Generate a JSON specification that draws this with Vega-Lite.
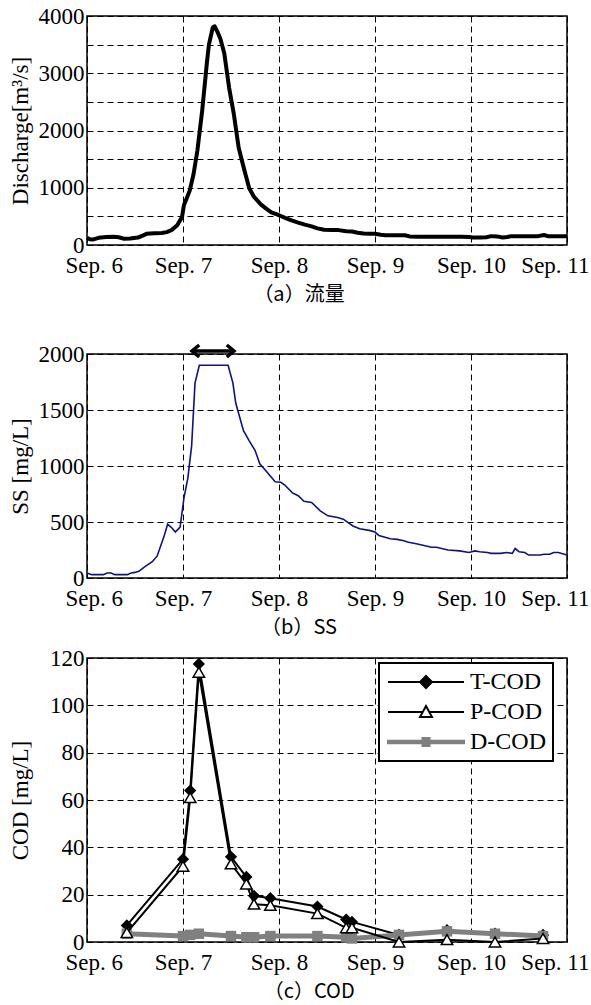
{
  "$schema": "https://vega.github.io/schema/vega-lite/v6.json",
  "background": "white",
  "padding": {"left": 8, "top": 4, "right": 0, "bottom": 0},
  "datasets": {
    "q": [
      {"day":0,"Q":128},{"day":0.03,"Q":100},{"day":0.06,"Q":95},{"day":0.12,"Q":125},{"day":0.2,"Q":140},{"day":0.28,"Q":145},{"day":0.33,"Q":135},{"day":0.38,"Q":110},{"day":0.45,"Q":115},{"day":0.53,"Q":130},{"day":0.58,"Q":165},{"day":0.62,"Q":195},{"day":0.7,"Q":205},{"day":0.78,"Q":210},{"day":0.83,"Q":225},{"day":0.88,"Q":260},{"day":0.94,"Q":345},{"day":0.99,"Q":490},{"day":1.01,"Q":700},{"day":1.04,"Q":820},{"day":1.07,"Q":950},{"day":1.11,"Q":1240},{"day":1.15,"Q":1650},{"day":1.2,"Q":2350},{"day":1.25,"Q":3200},{"day":1.27,"Q":3500},{"day":1.31,"Q":3800},{"day":1.33,"Q":3820},{"day":1.36,"Q":3720},{"day":1.39,"Q":3600},{"day":1.43,"Q":3350},{"day":1.48,"Q":2750},{"day":1.53,"Q":2280},{"day":1.58,"Q":1700},{"day":1.64,"Q":1300},{"day":1.69,"Q":990},{"day":1.74,"Q":840},{"day":1.81,"Q":710},{"day":1.87,"Q":630},{"day":1.92,"Q":570},{"day":2.0,"Q":520},{"day":2.07,"Q":470},{"day":2.13,"Q":430},{"day":2.2,"Q":390},{"day":2.27,"Q":355},{"day":2.34,"Q":325},{"day":2.4,"Q":290},{"day":2.47,"Q":265},{"day":2.55,"Q":260},{"day":2.62,"Q":260},{"day":2.7,"Q":240},{"day":2.76,"Q":235},{"day":2.82,"Q":215},{"day":2.88,"Q":200},{"day":2.95,"Q":195},{"day":3.0,"Q":195},{"day":3.06,"Q":180},{"day":3.11,"Q":170},{"day":3.2,"Q":170},{"day":3.31,"Q":170},{"day":3.36,"Q":150},{"day":3.45,"Q":145},{"day":3.6,"Q":145},{"day":3.75,"Q":145},{"day":3.9,"Q":145},{"day":3.98,"Q":140},{"day":4.02,"Q":130},{"day":4.1,"Q":130},{"day":4.16,"Q":135},{"day":4.21,"Q":155},{"day":4.27,"Q":150},{"day":4.33,"Q":130},{"day":4.38,"Q":140},{"day":4.42,"Q":155},{"day":4.5,"Q":155},{"day":4.6,"Q":155},{"day":4.7,"Q":155},{"day":4.76,"Q":175},{"day":4.8,"Q":155},{"day":4.9,"Q":155},{"day":5.0,"Q":155}
    ],
    "ss": [
      {"day":0,"SS":44},{"day":0.05,"SS":30},{"day":0.17,"SS":30},{"day":0.21,"SS":44},{"day":0.25,"SS":44},{"day":0.29,"SS":30},{"day":0.42,"SS":30},{"day":0.46,"SS":44},{"day":0.5,"SS":50},{"day":0.54,"SS":60},{"day":0.6,"SS":100},{"day":0.68,"SS":145},{"day":0.73,"SS":195},{"day":0.8,"SS":365},{"day":0.84,"SS":480},{"day":0.88,"SS":450},{"day":0.92,"SS":410},{"day":0.97,"SS":455},{"day":1.01,"SS":715},{"day":1.05,"SS":890},{"day":1.09,"SS":1180},{"day":1.125,"SS":1740},{"day":1.17,"SS":1900},{"day":1.47,"SS":1900},{"day":1.52,"SS":1740},{"day":1.55,"SS":1560},{"day":1.63,"SS":1315},{"day":1.69,"SS":1225},{"day":1.75,"SS":1140},{"day":1.8,"SS":1020},{"day":1.87,"SS":950},{"day":1.96,"SS":860},{"day":2.02,"SS":855},{"day":2.06,"SS":830},{"day":2.14,"SS":760},{"day":2.2,"SS":735},{"day":2.26,"SS":685},{"day":2.34,"SS":675},{"day":2.43,"SS":600},{"day":2.51,"SS":555},{"day":2.61,"SS":540},{"day":2.67,"SS":525},{"day":2.77,"SS":465},{"day":2.84,"SS":440},{"day":2.94,"SS":425},{"day":3.0,"SS":410},{"day":3.04,"SS":380},{"day":3.16,"SS":350},{"day":3.23,"SS":345},{"day":3.29,"SS":335},{"day":3.35,"SS":320},{"day":3.43,"SS":305},{"day":3.51,"SS":290},{"day":3.59,"SS":275},{"day":3.64,"SS":275},{"day":3.76,"SS":250},{"day":3.88,"SS":242},{"day":3.98,"SS":228},{"day":4.04,"SS":242},{"day":4.09,"SS":235},{"day":4.17,"SS":228},{"day":4.21,"SS":220},{"day":4.31,"SS":220},{"day":4.37,"SS":228},{"day":4.43,"SS":220},{"day":4.46,"SS":263},{"day":4.5,"SS":235},{"day":4.56,"SS":228},{"day":4.6,"SS":205},{"day":4.72,"SS":205},{"day":4.76,"SS":212},{"day":4.82,"SS":212},{"day":4.86,"SS":228},{"day":4.91,"SS":228},{"day":5.0,"SS":205}
    ],
    "arrow": [{"start":1.094,"end":1.531,"level":2027}],
    "arrowHeads": [{"day":1.094,"level":2027,"side":"start"},{"day":1.531,"level":2027,"side":"end"}],
    "cod": [
      {"series":"T-COD","day":0.415,"value":7},{"series":"T-COD","day":1.0,"value":35},{"series":"T-COD","day":1.075,"value":64},{"series":"T-COD","day":1.165,"value":117.5},{"series":"T-COD","day":1.5,"value":36},{"series":"T-COD","day":1.66,"value":27.5},{"series":"T-COD","day":1.74,"value":19.5},{"series":"T-COD","day":1.91,"value":18.5},{"series":"T-COD","day":2.4,"value":15},{"series":"T-COD","day":2.7,"value":9.5},{"series":"T-COD","day":2.76,"value":8.5},{"series":"T-COD","day":3.25,"value":3},{"series":"T-COD","day":3.75,"value":5},{"series":"T-COD","day":4.25,"value":3.5},{"series":"T-COD","day":4.75,"value":3},
      {"series":"P-COD","day":0.415,"value":4},{"series":"P-COD","day":1.0,"value":32},{"series":"P-COD","day":1.075,"value":61},{"series":"P-COD","day":1.165,"value":114},{"series":"P-COD","day":1.5,"value":33},{"series":"P-COD","day":1.66,"value":24.5},{"series":"P-COD","day":1.74,"value":16},{"series":"P-COD","day":1.91,"value":15.5},{"series":"P-COD","day":2.4,"value":12},{"series":"P-COD","day":2.7,"value":6},{"series":"P-COD","day":2.76,"value":6},{"series":"P-COD","day":3.25,"value":0},{"series":"P-COD","day":3.75,"value":1},{"series":"P-COD","day":4.25,"value":0},{"series":"P-COD","day":4.75,"value":1.5},
      {"series":"D-COD","day":0.415,"value":3.5},{"series":"D-COD","day":1.0,"value":2.5},{"series":"D-COD","day":1.075,"value":3},{"series":"D-COD","day":1.165,"value":3.5},{"series":"D-COD","day":1.5,"value":2.5},{"series":"D-COD","day":1.66,"value":2},{"series":"D-COD","day":1.74,"value":2},{"series":"D-COD","day":1.91,"value":2.5},{"series":"D-COD","day":2.4,"value":2.5},{"series":"D-COD","day":2.7,"value":2},{"series":"D-COD","day":2.76,"value":1.5},{"series":"D-COD","day":3.25,"value":3},{"series":"D-COD","day":3.75,"value":4.5},{"series":"D-COD","day":4.25,"value":3.5},{"series":"D-COD","day":4.75,"value":2.5}
    ]
  },
  "spacing": 7,
  "resolve": {
    "scale": {"x": "independent", "y": "independent"},
    "legend": {"shape": "independent", "fill": "independent", "stroke": "independent"}
  },
  "vconcat": [
    {
      "width": 480, "height": 229,
      "title": {"text": ["（a）流量", ""], "lineHeight": 24},
      "data": {"name": "q"},
      "mark": {"type": "line", "color": "black", "strokeWidth": 4, "strokeJoin": "round"},
      "encoding": {
        "x": {"field": "day", "type": "quantitative", "scale": {"domain": [0, 5], "nice": false},
              "axis": {"title": null, "values": [0,1,2,3,4,5], "labelExpr": "'Sep. ' + (datum.value + 6)", "labelFlush": true, "labelFlushOffset": 22, "labelOverlap": false, "labelPadding": 9, "labelFont": "Liberation Serif", "labelFontSize": 23}},
        "y": {"field": "Q", "type": "quantitative", "scale": {"domain": [0, 4000], "nice": false},
              "axis": {"title": "Discharge[m³/s]", "format": "d", "values": [0,500,1000,1500,2000,2500,3000,3500,4000], "labelExpr": "datum.value % 1000 === 0 ? datum.label : ''", "labelFont": "Liberation Serif", "labelFontSize": 23}}
      }
    },
    {
      "width": 480, "height": 224,
      "title": {"text": "（b）SS"},
      "layer": [
        {
          "data": {"name": "ss"},
          "mark": {"type": "line", "color": "#101088", "strokeWidth": 1.6},
          "encoding": {
            "x": {"field": "day", "type": "quantitative", "scale": {"domain": [0, 5], "nice": false},
                  "axis": {"title": null, "values": [0,1,2,3,4,5], "labelExpr": "'Sep. ' + (datum.value + 6)", "labelFlush": true, "labelFlushOffset": 22, "labelOverlap": false, "labelPadding": 9, "labelFont": "Liberation Serif", "labelFontSize": 23}},
            "y": {"field": "SS", "type": "quantitative", "scale": {"domain": [0, 2000], "nice": false},
                  "axis": {"title": "SS [mg/L]", "format": "d", "values": [0,500,1000,1500,2000], "labelFont": "Liberation Serif", "labelFontSize": 23}}
          }
        },
        {
          "data": {"name": "arrow"},
          "mark": {"type": "rule", "color": "black", "strokeWidth": 3.5},
          "encoding": {
            "x": {"field": "start", "type": "quantitative"},
            "x2": {"field": "end"},
            "y": {"field": "level", "type": "quantitative"}
          }
        },
        {
          "data": {"name": "arrowHeads"},
          "mark": {"type": "point", "filled": false, "stroke": "black", "strokeWidth": 3.5, "size": 144, "opacity": 1},
          "encoding": {
            "x": {"field": "day", "type": "quantitative"},
            "y": {"field": "level", "type": "quantitative"},
            "shape": {"condition": {"test": "datum.side === 'start'", "value": "M1.2,-1L0,0L1.2,1"}, "value": "M-1.2,-1L0,0L-1.2,1"}
          }
        }
      ]
    },
    {
      "width": 480, "height": 284,
      "title": {"text": "（c）COD"},
      "data": {"name": "cod"},
      "encoding": {
        "x": {"field": "day", "type": "quantitative", "scale": {"domain": [0, 5], "nice": false},
              "axis": {"title": null, "values": [0,1,2,3,4,5], "labelExpr": "'Sep. ' + (datum.value + 6)", "labelFlush": true, "labelFlushOffset": 22, "labelOverlap": false, "labelPadding": 9, "labelFont": "Liberation Serif", "labelFontSize": 23}},
        "y": {"field": "value", "type": "quantitative", "scale": {"domain": [0, 120], "nice": false},
              "axis": {"title": "COD [mg/L]", "format": "d", "values": [0,20,40,60,80,100,120], "titlePadding": 17, "labelFont": "Liberation Serif", "labelFontSize": 23}}
      },
      "layer": [
        {
          "transform": [{"filter": "datum.series === 'T-COD'"}],
          "mark": {"type": "line", "strokeWidth": 2, "color": "black"}
        },
        {
          "transform": [{"filter": "datum.series === 'T-COD'"}],
          "mark": {"type": "point", "shape": "diamond", "filled": true, "color": "black", "size": 150, "opacity": 1}
        },
        {
          "transform": [{"filter": "datum.series === 'D-COD'"}],
          "mark": {"type": "line", "strokeWidth": 5, "color": "#808080"}
        },
        {
          "transform": [{"filter": "datum.series === 'D-COD'"}],
          "mark": {"type": "point", "shape": "square", "filled": true, "color": "#808080", "size": 110, "opacity": 1}
        },
        {
          "transform": [{"filter": "datum.series === 'P-COD'"}],
          "mark": {"type": "line", "strokeWidth": 2, "color": "black"}
        },
        {
          "transform": [{"filter": "datum.series === 'P-COD'"}],
          "mark": {"type": "point", "shape": "triangle-up", "fill": "white", "stroke": "black", "strokeWidth": 1.5, "size": 130, "opacity": 1}
        },
        {
          "mark": {"type": "point", "size": 400, "fillOpacity": 0, "strokeOpacity": 0},
          "encoding": {
            "shape": {"field": "series", "type": "nominal",
                      "scale": {"domain": ["T-COD","P-COD","D-COD"], "range": ["M-1,0L6.6,0M2.8,-0.6L3.4,0L2.8,0.6L2.2,0Z", "M-1,0L2.47,0M3.13,0L6.6,0M2.8,-0.6L3.4,0.5L2.2,0.5Z", "M-1,-0.12L6.6,-0.12L6.6,0.12L-1,0.12ZM2.45,-0.4L3.15,-0.4L3.15,0.4L2.45,0.4Z"]},
                      "legend": {
                        "orient": "none", "legendX": 292, "legendY": 5, "title": null,
                        "symbolSize": 400, "symbolOpacity": 1, "symbolStrokeWidth": 2, "labelFont": "Liberation Serif", "labelFontSize": 24, "labelColor": "black", "labelOffset": 60,
                        "padding": 7, "rowPadding": 6, "strokeColor": "black", "fillColor": "white"
                      }},
            "fill": {"field": "series", "type": "nominal", "scale": {"domain": ["T-COD","P-COD","D-COD"], "range": ["black","white","#808080"]}},
            "stroke": {"field": "series", "type": "nominal", "scale": {"domain": ["T-COD","P-COD","D-COD"], "range": ["black","black","#808080"]}}
          }
        }
      ]
    }
  ],
  "config": {
    "font": "Liberation Serif",
    "view": {"stroke": "black", "strokeWidth": 1.5},
    "legend": {"strokeWidth": 2},
    "axis": {
      "labelFont": "Liberation Serif", "labelFontSize": 23, "labelColor": "black", "labelPadding": 3,
      "titleFont": "Liberation Serif", "titleFontSize": 23, "titleFontWeight": "normal", "titleColor": "black", "titlePadding": 6,
      "grid": true, "gridColor": "black", "gridDash": [6, 4], "gridWidth": 1, "gridOpacity": 1,
      "domain": false, "ticks": false
    },
    "title": {"font": "Noto Sans CJK JP", "fontSize": 20, "fontWeight": "normal", "color": "black", "orient": "bottom", "anchor": "middle", "frame": "bounds", "offset": 8}
  }
}
